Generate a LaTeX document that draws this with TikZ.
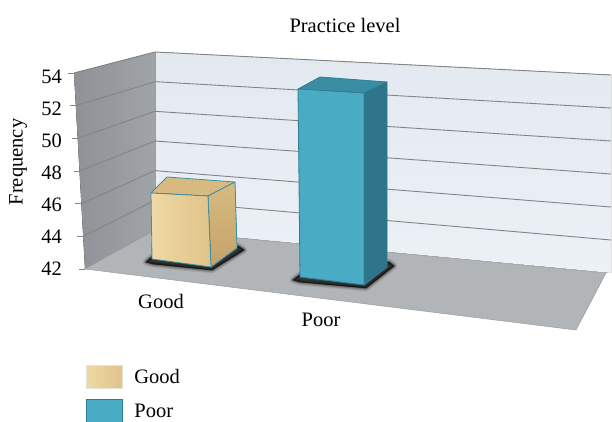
\documentclass[tikz,border=0pt]{standalone}
\usepackage{fontspec}
\setmainfont{Liberation Serif}
\usetikzlibrary{calc,positioning}
\definecolor{wallleft}{HTML}{8E9195}
\definecolor{wallright}{HTML}{A0A3A7}
\definecolor{backtop}{HTML}{E3E9F0}
\definecolor{backbot}{HTML}{ECF1F6}
\definecolor{floorgray}{HTML}{B2B5B7}
\definecolor{linegray}{HTML}{838486}
\definecolor{edgegray}{HTML}{9A9DA0}
\definecolor{poorfront}{HTML}{4AABC5}
\definecolor{poorside}{HTML}{2F7488}
\definecolor{poortop}{HTML}{3A8EA3}
\definecolor{pooredge}{HTML}{2C7E93}
\definecolor{goodlight}{HTML}{EFD9A4}
\definecolor{goodmid}{HTML}{E0C389}
\definecolor{goodside}{HTML}{C4A36A}
\definecolor{goodtop}{HTML}{D8BA80}
\definecolor{goodedge}{HTML}{3A93A5}
\tikzset{%
  txt/.style      = {font=\fontsize{20.5}{24}\selectfont, inner sep=0pt}, % Labels
  gridline/.style = {draw=linegray, line width=0.9pt}, % Grid lines
  tickmark/.style = {draw=linegray, line width=0.9pt}, % Ticks
  wall/.style     = {draw=edgegray, line width=0.5pt, line join=round}, % Walls
  barface/.style  = {draw=#1, line width=0.8pt, line join=round}, % Bars
  swatch/.style   = {draw, rectangle, minimum width=36pt,
    minimum height=23pt, inner sep=0pt} % Legend keys
}

\begin{document}
\begin{tikzpicture}[x=1pt, y=-1pt]
\useasboundingbox (0,0) rectangle (612,422);
	% Corners of the chart box:
	\coordinate (fl0) at (85,269);
	\coordinate (fl6) at (74,73);
	\coordinate (bl0) at (155,230);
	\coordinate (bl6) at (155,52);
	\coordinate (br0) at (611,273);
	\coordinate (br6) at (611,75);
	\coordinate (fbr) at (606,273);
	\coordinate (ffr) at (576,330);
	\coordinate (lab0) at (62,269);
	\coordinate (lab6) at (62,77);
	% Walls and floor
	\fill[left color=wallleft, right color=wallright] (fl0) -- (fl6) -- (bl6) -- (bl0) -- cycle;
	\fill[top color=backtop, bottom color=backbot] (bl0) -- (bl6) -- (br6) -- (br0) -- cycle;
	\filldraw[wall, fill=floorgray] (fl0) -- (bl0) -- (fbr) -- (ffr) -- cycle;
	\draw[wall] (bl0) -- (bl6);
	% Grid lines, ticks and values
	\foreach \k in {0,...,6}{
		\pgfmathtruncatemacro\val{42+2*\k}
		\coordinate (t\k) at ($(fl0)!\k/6!(fl6)$);
		\coordinate (b\k) at ($(bl0)!\k/6!(bl6)$);
		\coordinate (r\k) at ($(br0)!\k/6!(br6)$);
		\draw[tickmark] (t\k) -- ++(-6,0);
		\node[txt, anchor=east] (val\k) at ($(lab0)!\k/6!(lab6)$) {\val};
	}
	\foreach \k in {1,...,6}
		\draw[gridline] (t\k) -- (b\k) -- (r\k);
	% Soft shadows under the bars
	\foreach \w/\o in {7/0.08, 5/0.12, 3/0.2, 1/0.5}{
		\filldraw[black, opacity=\o, line width=\w pt, line join=round]
			(146,262) -- (153,256) -- (238,246) -- (244,250) -- (212,270) -- (153,264) -- cycle;
		\filldraw[black, opacity=\o, line width=\w pt, line join=round]
			(293,280) -- (301,274) -- (389,262) -- (394,266) -- (366,288) -- (300,282) -- cycle;
	}
	% Good bar
	\filldraw[barface=goodedge, fill=goodtop] (151,193) -- (167,177) -- (235,182) -- (208,196) -- cycle;
	\filldraw[barface=goodedge, top color=goodtop, bottom color=goodside] (208,196) -- (235,182) -- (237,248) -- (211,267) -- cycle;
	\filldraw[barface=goodedge, left color=goodlight, right color=goodmid] (151,193) -- (208,196) -- (211,267) -- (152,259) -- cycle;
	% Poor bar
	\filldraw[barface=pooredge, fill=poortop] (298,89) -- (320,77) -- (387,82) -- (364,93) -- cycle;
	\filldraw[barface=pooredge, fill=poorside] (364,93) -- (387,82) -- (387,267) -- (364,285) -- cycle;
	\filldraw[barface=pooredge, fill=poorfront] (298,89) -- (364,93) -- (364,285) -- (300,277) -- cycle;
	% Titles and category names
\draw
	node[txt] (title) at (345,25) {Practice level}
	node[txt, rotate=90] (ylab) at (18,162) {Frequency}
	node[txt] (xgood) at (161,301) {Good}
	node[txt] (xpoor) at (321,320) {Poor};
	% Legend
\draw
	node[swatch, draw=goodlight!70!pooredge!40, left color=goodlight, right color=goodmid] (lgood) at (104,376.5) {}
	node[txt, right=12pt of lgood] (tgood) {Good}
	node[swatch, draw=pooredge, fill=poorfront] (lpoor) at (104,410.5) {}
	node[txt, right=12pt of lpoor] (tpoor) {Poor};
\end{tikzpicture}
\end{document}
